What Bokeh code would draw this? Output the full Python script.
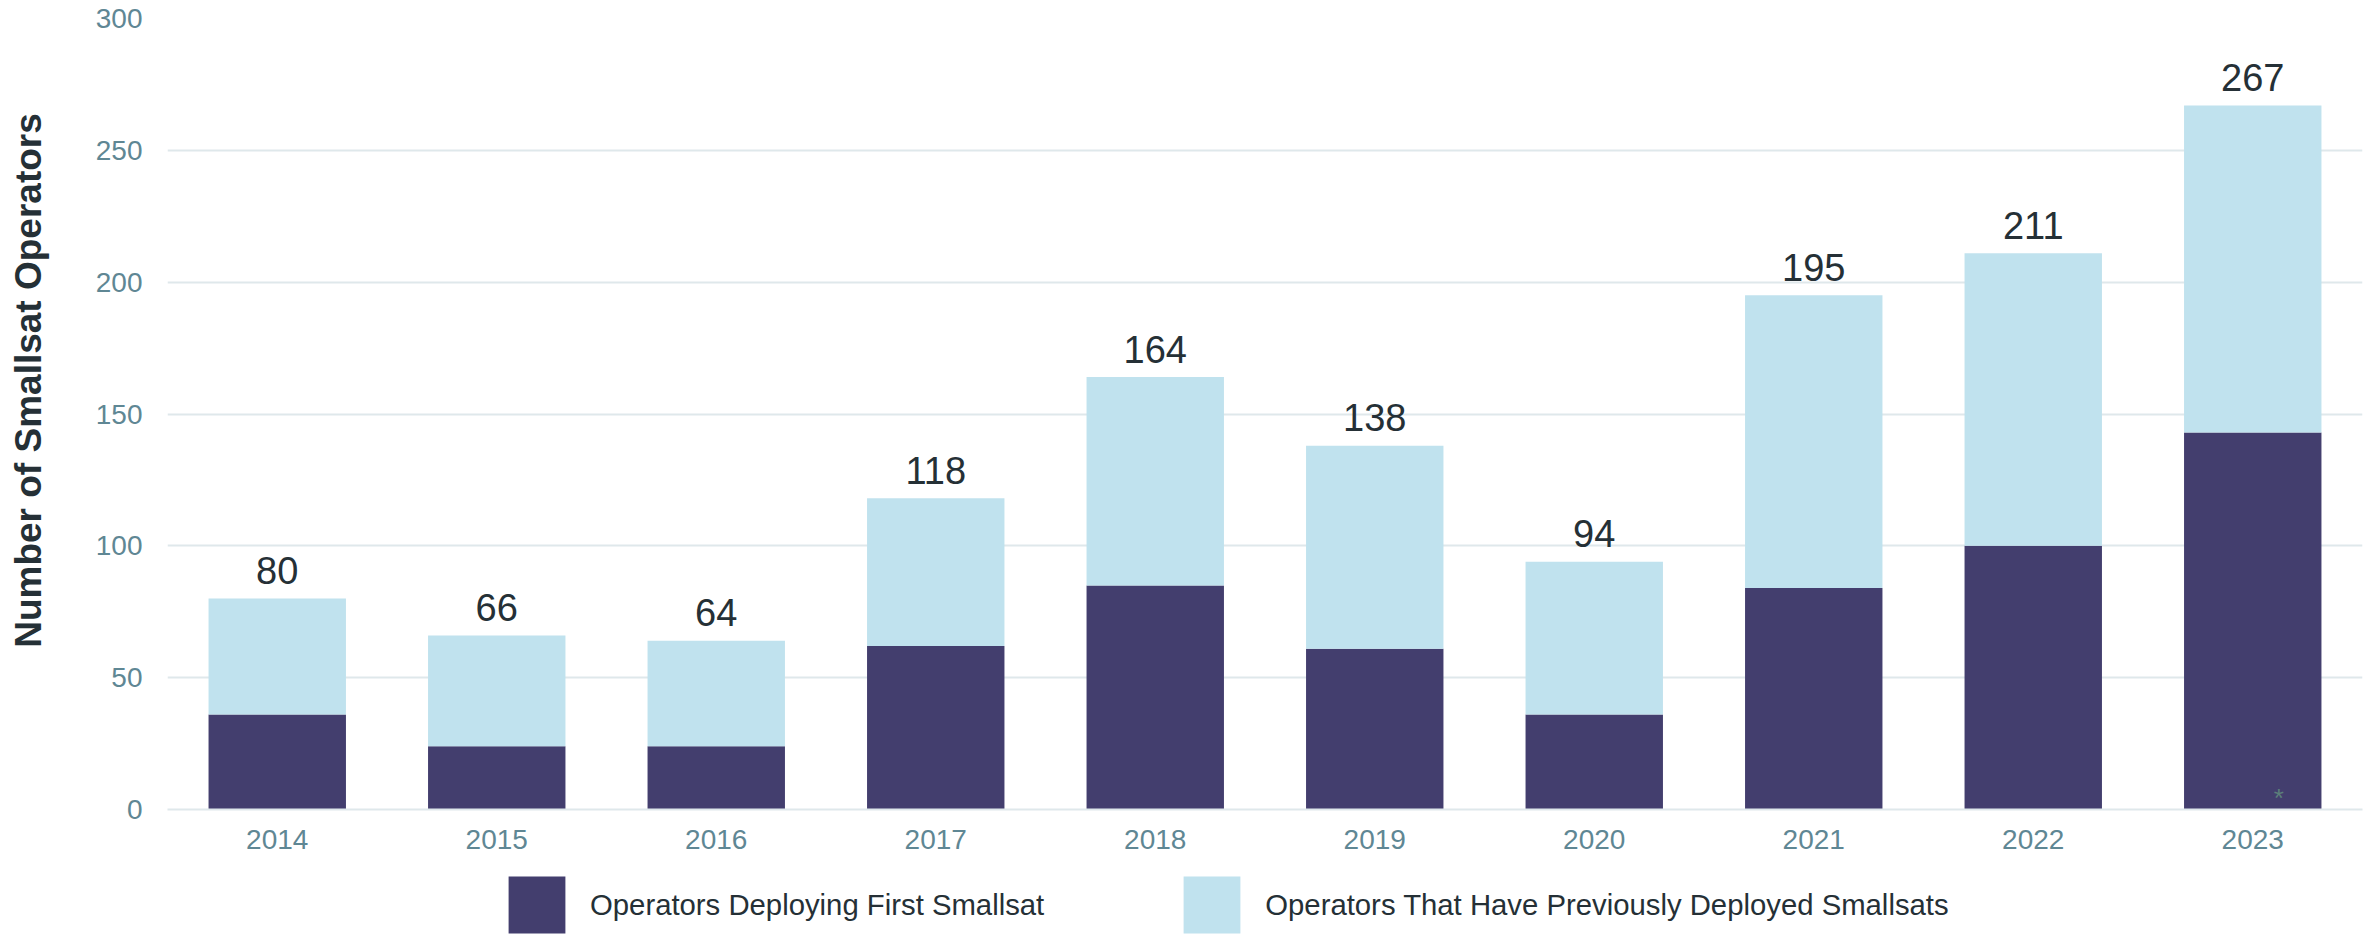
from bokeh.plotting import figure
from bokeh.layouts import column, row
from bokeh.models import ColumnDataSource, Legend, LegendItem, Label, Range1d, FactorRange
from bokeh.core.properties import value
from bokeh.embed import file_html
from bokeh.resources import INLINE

years = ["2014", "2015", "2016", "2017", "2018", "2019", "2020", "2021", "2022", "2023"]
first_time = [36, 24, 24, 62, 85, 61, 36, 84, 100, 143]
previously = [44, 42, 40, 56, 79, 77, 58, 111, 111, 124]
y_ticks = [0, 50, 100, 150, 200, 250, 300]
series_names = ["Operators Deploying First Smallsat", "Operators That Have Previously Deployed Smallsats"]
y_title = "Number of Smallsat Operators"

totals = [a + b for a, b in zip(first_time, previously)]

DARK = "#433e6e"
LIGHT = "#c0e2ee"
GRID = "#dfe8eb"
TICK = "#5f8794"
TEXT = "#253036"
FONT = "Liberation Sans"
W = 2371
TW = 55    # width of the axis-title strip
PH = 869   # height of the chart row
LH = 65    # height of the legend strip

yr = Range1d(0, 300)

src = ColumnDataSource(dict(year=years, first=first_time, prev=previously,
                            total=totals, label=[str(t) for t in totals]))

p = figure(width=W - TW, height=PH, x_range=FactorRange(*years, range_padding=0),
           y_range=yr, output_backend="svg", toolbar_location=None,
           min_border_left=167 - TW, min_border_right=9, min_border_top=18, min_border_bottom=60)
p.outline_line_color = None

rs = p.vbar_stack(["first", "prev"], x="year", width=0.626, color=[DARK, LIGHT],
                  line_color=None, source=src)

p.text(x="year", y="total", text="label", source=src, text_align="center",
       text_baseline="alphabetic", y_offset=-28, text_font=value(FONT),
       text_font_size="38px", text_color=TEXT)

p.text(x=["2023"], y=[0], text=["*"], x_offset=26, y_offset=-12, text_align="center",
       text_baseline="alphabetic", text_font=value(FONT), text_font_size="26px",
       text_color="#5c7f7a")

p.xgrid.grid_line_color = None
p.ygrid.grid_line_color = GRID
p.ygrid.grid_line_width = 2
p.yaxis.ticker = y_ticks

for ax in (p.xaxis[0], p.yaxis[0]):
    ax.major_tick_line_color = None
    ax.minor_tick_line_color = None
    ax.major_tick_out = 0
    ax.major_tick_in = 0
    ax.major_label_text_font = FONT
    ax.major_label_text_font_size = "28px"
    ax.major_label_text_color = TICK
p.xaxis.axis_line_color = GRID
p.xaxis.axis_line_width = 2
p.yaxis.axis_line_color = None
p.xaxis.major_label_standoff = 20
p.yaxis.major_label_standoff = 25

# strip holding the vertical axis title
tf = figure(width=TW, height=PH, x_range=Range1d(0, TW), y_range=yr,
            output_backend="svg", toolbar_location=None,
            min_border_left=0, min_border_right=0, min_border_top=18, min_border_bottom=60)
tf.axis.visible = False
tf.grid.grid_line_color = None
tf.outline_line_color = None
tf.add_layout(Label(x=TW / 2, y=162.7, text=y_title, angle=90, angle_units="deg",
                    text_align="center", text_baseline="middle",
                    text_font=FONT, text_font_style="bold", text_font_size="37px",
                    text_color=TEXT))

# legend strip below the chart
lf = figure(width=W, height=LH, x_range=Range1d(0, 1), y_range=Range1d(0, 1),
            output_backend="svg", toolbar_location=None, min_border=0)
lf.axis.visible = False
lf.grid.grid_line_color = None
lf.outline_line_color = None
# legend proxies, kept outside the visible range
d1 = lf.vbar(x=[5], top=[1], width=0.1, color=DARK, line_color=None)
d2 = lf.vbar(x=[5], top=[1], width=0.1, color=LIGHT, line_color=None)
legend = Legend(items=[LegendItem(label=series_names[0], renderers=[d1]),
                       LegendItem(label=series_names[1], renderers=[d2])],
                location=(501, -6), orientation="horizontal",
                glyph_width=71, glyph_height=71, label_standoff=18, spacing=132,
                padding=0, margin=0, border_line_color=None, background_fill_alpha=0,
                label_text_font=FONT, label_text_font_size="29.3px", label_text_color=TEXT,
                label_height=71)
lf.add_layout(legend, "center")

layout = column(row(tf, p, spacing=0), lf, spacing=0)
open("out.html", "w").write(file_html(layout, INLINE))
